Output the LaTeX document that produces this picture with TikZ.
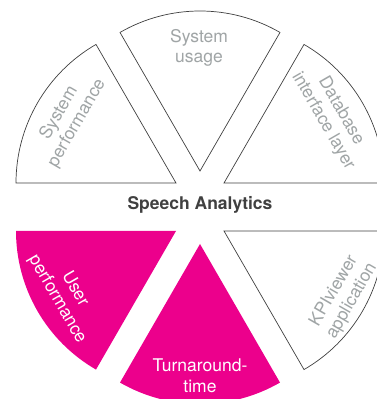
\documentclass[tikz,border=0pt]{standalone}
\usepackage{fontspec}
\setmainfont{TeX Gyre Heros}
\usepackage{tikz}
\usetikzlibrary{calc}

\definecolor{magenta}{HTML}{EC008C}
\definecolor{labelgray}{HTML}{A0A5A6}
\definecolor{edgegray}{HTML}{404040}

\begin{document}
\begin{tikzpicture}[x=1pt,y=1pt,
    sector/.style={draw=edgegray,line width=0.7pt,fill=white,line join=miter},
    hotsector/.style={fill=magenta,draw=none},
    lbl/.style={text=labelgray,font=\fontsize{17.5}{20.5}\selectfont,align=center,inner sep=0pt},
    hotlbl/.style={lbl,text=white}]
            \useasboundingbox (0,0) rectangle (376,399);

            % apexes of the six slices
            \coordinate (T) at (200,228);
            \coordinate (TL) at (176,216);
            \coordinate (TR) at (224,216);
            \coordinate (BL) at (176,168);
            \coordinate (B) at (200,155);
            \coordinate (BR) at (224,168);

            \draw[sector] (T) -- ($(T)+(60:160)$) arc[start angle=60,end angle=120,radius=160] -- cycle;
            \draw[sector] (TL) -- ($(TL)+(120:160)$) arc[start angle=120,end angle=180,radius=160] -- cycle;
            \draw[sector] (TR) -- ($(TR)+(0:160)$) arc[start angle=0,end angle=60,radius=160] -- cycle;
            \fill[hotsector] (BL) -- ($(BL)+(180:160)$) arc[start angle=180,end angle=240,radius=160] -- cycle;
            \fill[hotsector] (B) -- ($(B)+(240:160)$) arc[start angle=240,end angle=300,radius=160] -- cycle;
            \draw[sector] (BR) -- ($(BR)+(300:160)$) arc[start angle=300,end angle=360,radius=160] -- cycle;

            \node[lbl] (usage) at (199,351) {System\\usage};
            \node[lbl,rotate=60] (sysperf) at (68,281) {System\\performance};
            \node[lbl,rotate=-60] (dbase) at (332,283) {Database\\interface layer};
            \node[hotlbl,rotate=-60] (userperf) at (66,105) {User\\performance};
            \node[hotlbl] (turn) at (200,23) {Turnaround-\\time};
            \node[lbl,rotate=60] (kpi) at (343,103) {KPIviewer\\application};

            \node[text=edgegray,font=\fontsize{17.5}{20}\selectfont\bfseries,inner sep=0pt] (title) at (200,194) {Speech Analytics};
        \end{tikzpicture}
\end{document}
